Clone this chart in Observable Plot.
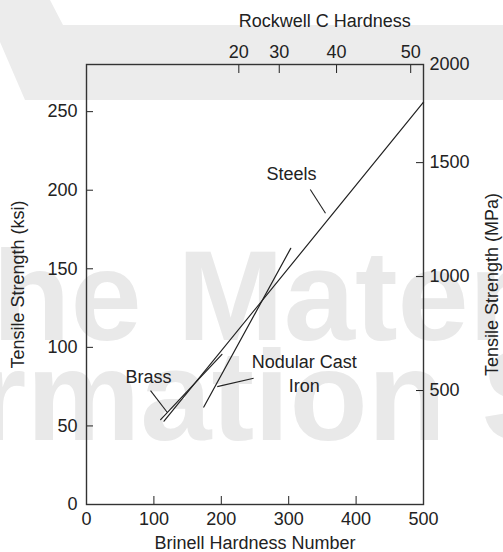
<!DOCTYPE html>
<html>
<head>
<meta charset="utf-8">
<script src="https://cdn.jsdelivr.net/npm/d3@7"></script>
<script src="https://cdn.jsdelivr.net/npm/@observablehq/plot@0.6"></script>
<style>
  html, body { margin: 0; padding: 0; background: #fff; }
  #chart { width: 503px; height: 552px; }
</style>
</head>
<body>
<div id="chart"></div>
<script>
// ---- data ----
const brinellTicks = [0, 100, 200, 300, 400, 500];
const ksiTicks = [0, 50, 100, 150, 200, 250];
const mpaTicks = [500, 1000, 1500, 2000];
const rockwellC = [20, 30, 40, 50];
const rockwellBrinell = [226, 286, 371, 481];   // Brinell equivalent of each Rockwell C tick

const steelHB = [115, 500];
const steelKsi = [53, 256];
const brassHB = [110, 201];
const brassKsi = [54, 95.5];
const ironHB = [174, 303];
const ironKsi = [62, 163];

const labelText = ["Steels", "Brass", "Nodular Cast\nIron"];
const labelHB = [304, 92, 323];
const labelKsi = [211, 82, 84];

const leaderHB1 = [332, 95, 248];
const leaderKsi1 = [200.5, 72.5, 80.3];
const leaderHB2 = [354.6, 119.7, 194];
const leaderKsi2 = [185.3, 58.7, 75];

const KSI_TOP = 280;
const MPA_PER_KSI = 6.895;

// ---- build tables ----
const toPts = (xs, ys) => xs.map((x, i) => ({x, y: ys[i]}));
const steel = toPts(steelHB, steelKsi);
const brass = toPts(brassHB, brassKsi);
const iron = toPts(ironHB, ironKsi);
const labels = labelText.map((t, i) => ({t, x: labelHB[i], y: labelKsi[i]}));
const leaders = leaderHB1.map((x1, i) => ({x1, y1: leaderKsi1[i], x2: leaderHB2[i], y2: leaderKsi2[i]}));
const mpaAsKsi = mpaTicks.map(m => Math.min(m / MPA_PER_KSI, KSI_TOP));
const rcLookup = new Map(rockwellBrinell.map((b, i) => [b, rockwellC[i]]));
const rcMid = (d3.min(rockwellBrinell) + d3.max(rockwellBrinell)) / 2;

const ink = "#222";
const font = "'Liberation Sans', Arial, sans-serif";

const chart = Plot.plot({
  width: 503,
  height: 552,
  marginLeft: 86,
  marginRight: 80,
  marginTop: 64,
  marginBottom: 48,
  style: {fontFamily: font, fontSize: "18px", color: ink, background: "transparent"},
  x: {domain: [0, 500], label: null, axis: null},
  y: {domain: [0, KSI_TOP], label: null, axis: null},
  marks: [
    // axes
    Plot.axisX({anchor: "bottom", ticks: brinellTicks, tickSize: -8, tickPadding: 16, tickFormat: d => String(d), stroke: ink}),
    Plot.axisX({anchor: "top", ticks: rockwellBrinell, tickSize: -8, tickPadding: 15, tickFormat: d => String(rcLookup.get(d)), stroke: ink}),
    Plot.axisY({anchor: "left", ticks: ksiTicks, tickSize: -7, tickPadding: 16, tickFormat: d => String(d), stroke: ink}),
    Plot.axisY({anchor: "right", ticks: mpaAsKsi, tickSize: -8, tickPadding: 14,
      tickFormat: d => String(Math.round(d * MPA_PER_KSI / 500) * 500), stroke: ink}),
    Plot.frame({stroke: "#333", strokeWidth: 1.4}),
    // titles
    Plot.text(["Brinell Hardness Number"], {frameAnchor: "bottom", lineAnchor: "middle", textAnchor: "middle", dy: 39, fill: ink}),
    Plot.text(["Rockwell C Hardness"], {x: () => rcMid, frameAnchor: "top", lineAnchor: "middle", textAnchor: "middle", dy: -43, fill: ink}),
    Plot.text(["Tensile Strength (ksi)"], {frameAnchor: "left", lineAnchor: "middle", textAnchor: "middle", dx: -68, dy: 0, rotate: -90, fill: ink}),
    Plot.text(["Tensile Strength (MPa)"], {frameAnchor: "right", lineAnchor: "middle", textAnchor: "middle", dx: 69, dy: 0, rotate: -90, fill: ink}),
    // data lines
    Plot.line(steel, {x: "x", y: "y", stroke: ink, strokeWidth: 1.2}),
    Plot.line(brass, {x: "x", y: "y", stroke: ink, strokeWidth: 1.2}),
    Plot.line(iron, {x: "x", y: "y", stroke: ink, strokeWidth: 1.2}),
    // annotations
    Plot.link(leaders, {x1: "x1", y1: "y1", x2: "x2", y2: "y2", stroke: ink, strokeWidth: 1.1}),
    Plot.text(labels, {x: "x", y: "y", text: "t", fill: ink, lineHeight: 1.3})
  ]
});

// faint watermark behind the chart (as in the reference image)
const svg = d3.select(chart);
const wm = svg.insert("g", ":first-child").attr("aria-hidden", "true");
wm.append("polygon")
  .attr("points", "0,0 50,0 63,25 503,25 503,100 25,100 0,42")
  .attr("fill", "#ececec");
wm.append("text").text("The Materials")
  .attr("x", -86).attr("y", 340)
  .attr("text-anchor", "start")
  .attr("font-size", 128).attr("font-weight", "bold")
  .attr("font-family", font)
  .attr("fill", "#e9e9e9");
wm.append("text").text("Information Society")
  .attr("x", -258).attr("y", 440)
  .attr("text-anchor", "start")
  .attr("font-size", 128).attr("font-weight", "bold")
  .attr("font-family", font)
  .attr("fill", "#e9e9e9");

document.getElementById("chart").appendChild(chart);
</script>
</body>
</html>
